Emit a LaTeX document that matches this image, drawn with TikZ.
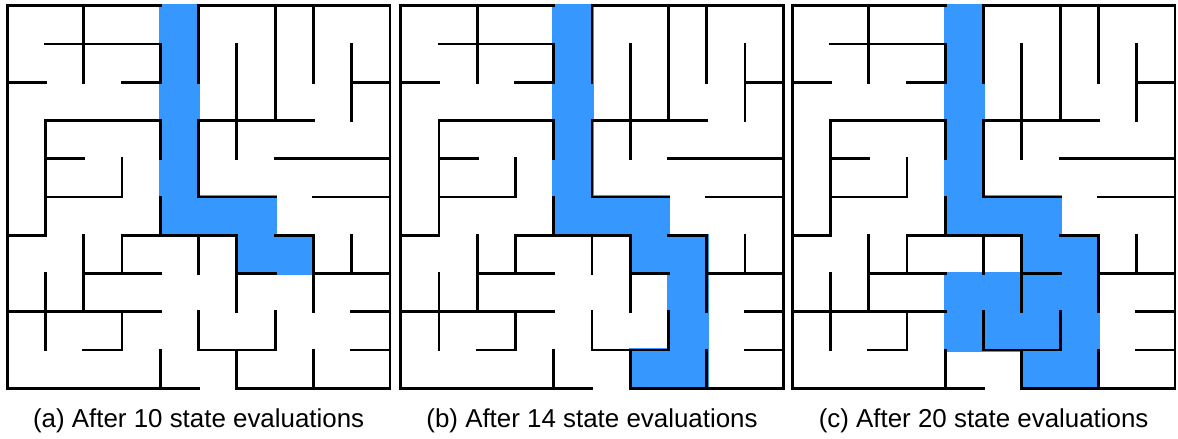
\documentclass[tikz,border=0pt]{standalone}
\usepackage{fontspec}
\setmainfont{Liberation Sans}
\definecolor{mazeblue}{RGB}{54,151,255}
\tikzset{
  wall/.style={line width=2.8pt, line cap=rect, black},
  visited/.style={fill=mazeblue},
  caption/.style={anchor=base, inner sep=0pt, font=\fontsize{25.9}{30}\selectfont}
}
\newcommand\mymazewalls{%
  \foreach \r/\a/\b in {0/0/4,0/5/10,1/1/4,2/0/1,2/3/4,2/9/10,3/1/4,3/5/8,4/1/2,4/7/10,
      5/1/3,5/5/7,5/8/10,6/0/1,6/3/6,6/7/8,7/2/4,7/6/7,7/8/10,8/0/4,8/9/10,
      9/2/3,9/5/7,9/9/10,10/0/5,10/6/10}
    {\draw[wall] (\a,\r) -- (\b,\r);}
  \foreach \c/\a/\b in {0/0/10,1/3/6,1/7/9,2/0/2,2/6/8,3/4/5,3/6/7,3/8/9,
      4/1/2,4/3/4,4/5/6,4/9/10,5/0/2,5/3/5,5/6/7,5/8/9,6/1/4,6/6/8,6/9/10,
      7/0/3,7/8/9,8/0/2,8/6/8,8/9/10,9/1/3,9/6/7,10/0/10}
    {\draw[wall] (\c,\a) -- (\c,\b);}
}
\newcommand\mycells[1]{%
  \foreach \c/\r in {#1}
    {\fill[visited] (\c-0.045,\r-0.045) rectangle (\c+1.045,\r+1.045);}
}
\begin{document}
\begin{tikzpicture}[x=1pt,y=-1pt]
\useasboundingbox (0,0) rectangle (1178,439);
\fill[white] (0,0) rectangle (1178,439);
% maze (a)
\begin{scope}[xshift=7.3pt,yshift=-5.7pt,x=38.26pt,y=-38.26pt]
  \mycells{4/0,4/1,4/2,4/3,4/4,4/5,5/5,6/5,6/6,7/6}
  \mymazewalls
\end{scope}
% maze (b)
\begin{scope}[xshift=400.7pt,yshift=-5.7pt,x=38.26pt,y=-38.26pt]
  \mycells{4/0,4/1,4/2,4/3,4/4,4/5,5/5,6/5,6/6,7/6,7/7,7/8,6/9,7/9}
  \mymazewalls
\end{scope}
% maze (c)
\begin{scope}[xshift=792.3pt,yshift=-5.7pt,x=38.26pt,y=-38.26pt]
  \mycells{4/0,4/1,4/2,4/3,4/4,4/5,5/5,6/5,6/6,7/6,7/7,7/8,6/9,7/9,4/7,5/7,6/7,4/8,5/8,6/8}
  \mymazewalls
\end{scope}
\node[caption] (capa) at (198.6,427.5) {(a) After 10 state evaluations};
\node[caption] (capb) at (592.0,427.5) {(b) After 14 state evaluations};
\node[caption] (capc) at (983.6,427.5) {(c) After 20 state evaluations};
\end{tikzpicture}
\end{document}
